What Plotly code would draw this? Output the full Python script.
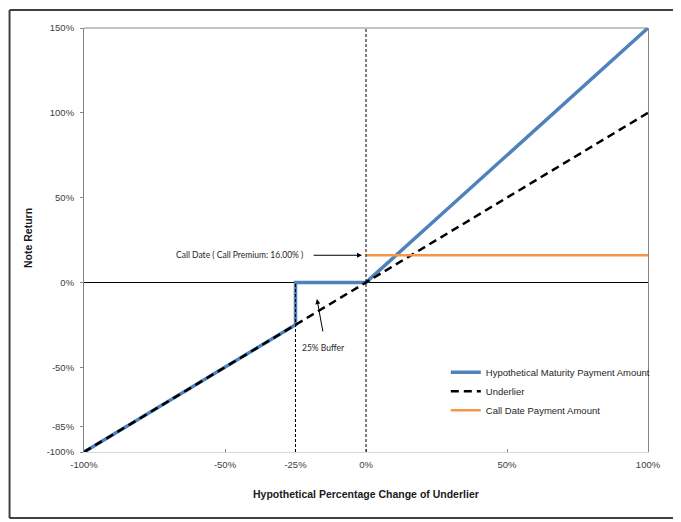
import plotly.graph_objects as go

# chart values (percent)
maturity_x = [-100, -25, -25, 0, 100]
maturity_y = [-100, -25, 0, 0, 150]
underlier_x = [-100, 100]
underlier_y = [-100, 100]
call_x = [0, 100]
call_y = [16, 16]
buffer_level = -25
call_premium = 16

x_ticks = [-100, -50, -25, 0, 50, 100]
y_ticks = [-100, -85, -50, 0, 50, 100, 150]

tick_font = dict(family="Liberation Sans, Arial", size=9.5, color="#404040")
note_font = dict(family="Lato, Open Sans", size=8.5, color="#262626")
title_font = dict(family="Liberation Sans, Arial", size=10.5, color="#1a1a1a")

fig = go.Figure()

fig.add_trace(go.Scatter(
    x=maturity_x, y=maturity_y, mode="lines",
    name="Hypothetical Maturity Payment Amount",
    line=dict(color="#4F81BD", width=3.5), cliponaxis=False))
fig.add_trace(go.Scatter(
    x=underlier_x, y=underlier_y, mode="lines", name="Underlier",
    line=dict(color="black", width=2.5, dash="8px,5px"), cliponaxis=False))
fig.add_trace(go.Scatter(
    x=call_x, y=call_y, mode="lines", name="Call Date Payment Amount",
    line=dict(color="#F79646", width=2.5), cliponaxis=False))

# dotted guide lines at the buffer level and at 0%
fig.add_shape(type="line", x0=buffer_level, x1=buffer_level, y0=-100, y1=0,
              line=dict(color="black", width=1, dash="3px,2px"), layer="above")
fig.add_shape(type="line", x0=0, x1=0, y0=-100, y1=150,
              line=dict(color="black", width=1, dash="3px,2px"), layer="above")
# top frame line
fig.add_shape(type="line", xref="paper", yref="paper", x0=0, x1=1, y0=1, y1=1,
              line=dict(color="#868686", width=1))

# outer border (page body has an 8px margin)
bl, br, bt, bb = -0.1320, 1.0532, 1.0425, -0.1557
fig.add_shape(type="line", xref="paper", yref="paper", x0=bl, x1=bl,
              y0=bb, y1=bt, line=dict(color="#404040", width=2))
fig.add_shape(type="line", xref="paper", yref="paper", x0=bl, x1=br,
              y0=bt, y1=bt, line=dict(color="#404040", width=2))
fig.add_shape(type="line", xref="paper", yref="paper", x0=br, x1=br,
              y0=bb, y1=bt, line=dict(color="black", width=1.5))
fig.add_shape(type="line", xref="paper", yref="paper", x0=bl, x1=br,
              y0=bb, y1=bb, line=dict(color="black", width=1.5))

# call date note
fig.add_annotation(x=-21.6, y=call_premium, xanchor="right", yanchor="middle",
                   text=f"Call Date ( Call Premium: {call_premium:.2f}% )",
                   showarrow=False, font=note_font)
fig.add_annotation(x=0, y=call_premium, ax=-19.1, ay=call_premium,
                   axref="x", ayref="y", text="", showarrow=True,
                   arrowhead=2, arrowsize=1, arrowwidth=1, arrowcolor="black",
                   standoff=4)
# buffer note
fig.add_annotation(x=-17.4, y=-9.8, ax=-15.2, ay=-29.8, axref="x", ayref="y",
                   text="", showarrow=True, arrowhead=2, arrowsize=1,
                   arrowwidth=1, arrowcolor="black")
fig.add_annotation(x=-14.9, y=-38.9, text="25% Buffer", showarrow=False,
                   font=note_font)

# axis titles
fig.add_annotation(xref="paper", yref="paper", x=-0.0993, y=0.5047,
                   xanchor="center", yanchor="middle",
                   text="<b>Note Return</b>", textangle=-90, showarrow=False,
                   font=title_font)
fig.add_annotation(xref="paper", yref="paper", x=0.5, y=-0.099,
                   xanchor="center", yanchor="middle",
                   text="<b>Hypothetical Percentage Change of Underlier</b>",
                   showarrow=False, font=title_font)

fig.update_layout(
    width=673, height=514,
    margin=dict(l=76, r=33, t=20, b=70),
    paper_bgcolor="white", plot_bgcolor="white",
    showlegend=True,
    legend=dict(x=0.6415, y=0.222, xanchor="left", yanchor="top",
                font=dict(family="Liberation Sans, Arial", size=9.5, color="#262626"),
                bgcolor="rgba(0,0,0,0)", itemwidth=30, tracegroupgap=0),
)
fig.update_xaxes(
    range=[-100, 100], tickvals=x_ticks, ticktext=[f"{v}%" for v in x_ticks],
    showgrid=False, zeroline=False, showline=True, linecolor="#d9d9d9",
    ticks="inside", ticklen=3, tickcolor="#868686", tickfont=tick_font,
    ticklabelstandoff=4)
fig.update_yaxes(
    range=[-100, 150], tickvals=y_ticks, ticktext=[f"{v}%" for v in y_ticks],
    showgrid=False, zeroline=True, zerolinecolor="black", zerolinewidth=1,
    showline=True, linecolor="#868686", mirror=True,
    ticks="outside", ticklen=3, tickcolor="#868686", tickfont=tick_font,
    ticklabelstandoff=4)

fig.write_html("out.html")
